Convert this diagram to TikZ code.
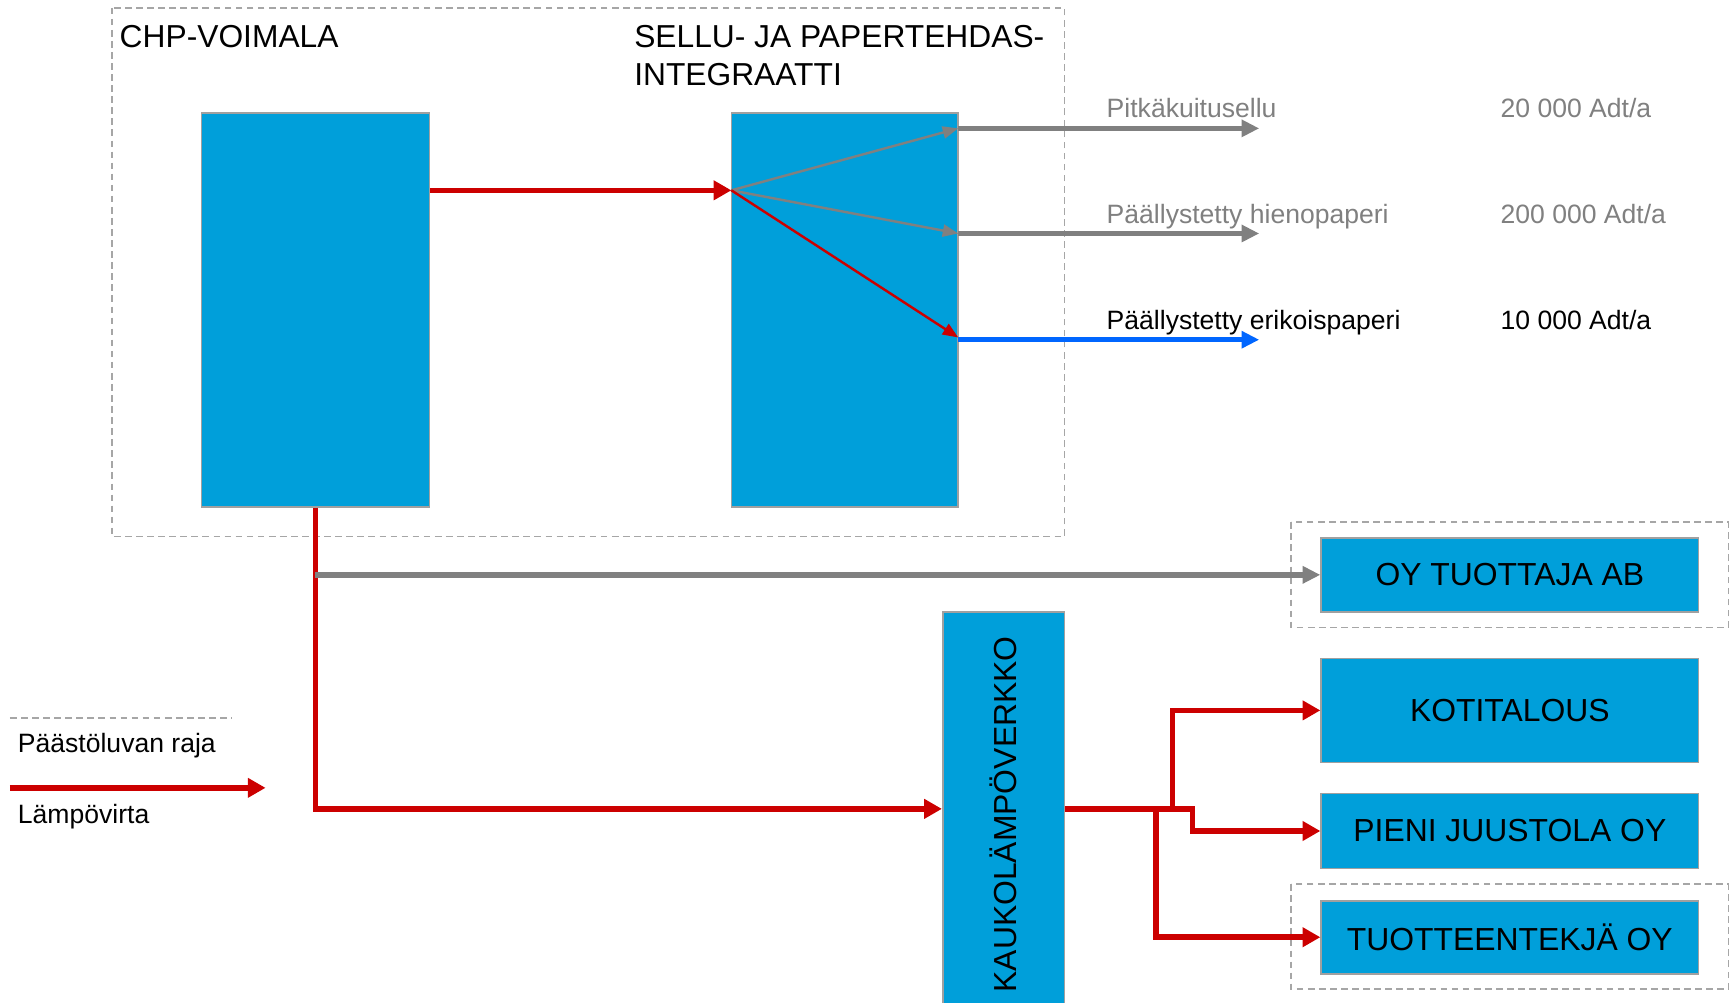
\documentclass[tikz,border=0pt]{standalone}
\usepackage{fontspec}
\setmainfont{Liberation Sans}
\usetikzlibrary{arrows.meta,calc}
\definecolor{boxblue}{RGB}{0,159,218}
\definecolor{boxgray}{RGB}{160,160,160}
\definecolor{dashgray}{RGB}{166,166,166}
\definecolor{heatred}{RGB}{204,0,0}
\definecolor{flowgray}{RGB}{128,128,128}
\definecolor{flowblue}{RGB}{0,102,255}
\definecolor{txtgray}{RGB}{128,128,128}
\begin{document}
\begin{tikzpicture}[x=1pt,y=-1pt,
  blk/.style={draw=boxgray,line width=1.5pt,fill=boxblue,inner sep=0pt,
    font=\fontsize{28.8}{34.5}\selectfont},
  lim/.style={draw=dashgray,line width=1.5pt,dash pattern=on 6pt off 4pt},
  heat/.style={draw=heatred,line width=5pt,-{Triangle[length=16pt,width=17pt]}},
  thinheat/.style={draw=heatred,line width=2.2pt,-{Triangle[length=14pt,width=11pt]}},
  thingray/.style={draw=flowgray,line width=2.2pt,-{Triangle[length=14pt,width=11pt]}},
  prodgray/.style={draw=flowgray,line width=5pt,-{Triangle[length=16pt,width=15pt]}},
  prodblue/.style={draw=flowblue,line width=5pt,-{Triangle[length=16pt,width=15pt]}},
  title/.style={font=\fontsize{28.7}{34.4}\selectfont,inner sep=0pt,align=left},
  lbl/.style={font=\fontsize{24}{28.8}\selectfont,inner sep=0pt,anchor=base west},
]
\useasboundingbox[fill=white] (0,0) rectangle (1568,906);

% permit boundaries
\draw[lim] (101,7) rectangle (962,485);
\draw[lim] (1167,472) rectangle (1562,567);
\draw[lim] (1167,799) rectangle (1562,894);

% titles
\node[title,anchor=base west] (tchp) at (108,43) {CHP-VOIMALA};
\node[title,anchor=base west] (tsel1) at (573,43) {SELLU- JA PAPERTEHDAS-};
\node[title,anchor=base west] (tsel2) at (573,77) {INTEGRAATTI};

% main blocks
\node[blk,minimum width=206pt,minimum height=356pt] (chp) at (285,280) {};
\node[blk,minimum width=205pt,minimum height=356pt] (sellu) at (763.5,280) {};
\node[blk,minimum width=110pt,minimum height=356pt] (kauko) at (907,731)
  {\rotatebox{90}{KAUKOLÄMPÖVERKKO\kern10pt}};
\node[blk,minimum width=341pt,minimum height=67pt] (oy) at (1364.5,519.5) {OY TUOTTAJA AB};
\node[blk,minimum width=341pt,minimum height=94pt] (koti) at (1364.5,642) {KOTITALOUS};
\node[blk,minimum width=341pt,minimum height=68pt] (pieni) at (1364.5,751) {PIENI JUUSTOLA OY};
\node[blk,minimum width=341pt,minimum height=66pt] (tuot) at (1364.5,847) {TUOTTEENTEKJÄ OY};

% coordinates inside the mill
\coordinate (fan) at (661,172);
\coordinate (o1) at (866,116);
\coordinate (o2) at (866,211);
\coordinate (o3) at (866,305);
\coordinate (e1) at (1138,116);
\coordinate (e2) at (1138,211);
\coordinate (e3) at (1138,307);

% CHP -> mill
\draw[heat] (chp.east |- fan) -- (fan);
\draw[thingray] (fan) -- (o1);
\draw[thingray] (fan) -- (o2);
\draw[thinheat] (fan) -- (o3);

% products
\draw[prodgray] (o1) -- (e1);
\draw[prodgray] (o2) -- (e2);
\draw[prodblue] (o3 |- e3) -- (e3);

\node[lbl,text=txtgray] (p1) at (1000,106) {Pitkäkuitusellu};
\node[lbl,text=txtgray] (q1) at (1356,106) {20 000 Adt/a};
\node[lbl,text=txtgray] (p2) at (1000,202) {Päällystetty hienopaperi};
\node[lbl,text=txtgray] (q2) at (1356,202) {200 000 Adt/a};
\node[lbl] (p3) at (1000,298) {Päällystetty erikoispaperi};
\node[lbl] (q3) at (1356,298) {10 000 Adt/a};

% CHP -> outputs
\draw[heat] (chp.south) |- (kauko.west);
\draw[prodgray] (chp.south |- oy.west) -- (oy.west);

% district heating branches
\draw[heat] (kauko.east) -- ++(97,0) |- (koti.west);
\draw[heat] (kauko.east) -- ++(115,0) |- (pieni.west);
\draw[heat] ($(kauko.east)+(82,0)$) |- (tuot.west);

% legend
\coordinate (la) at (9,649);
\coordinate (lb) at (210,649);
\coordinate (lc) at (9,712);
\coordinate (ld) at (240,712);
\draw[lim] (la) -- (lb);
\node[lbl] (leg1) at (16,680) {Päästöluvan raja};
\draw[heat] (lc) -- (ld);
\node[lbl] (leg2) at (16,744) {Lämpövirta};
\end{tikzpicture}
\end{document}
